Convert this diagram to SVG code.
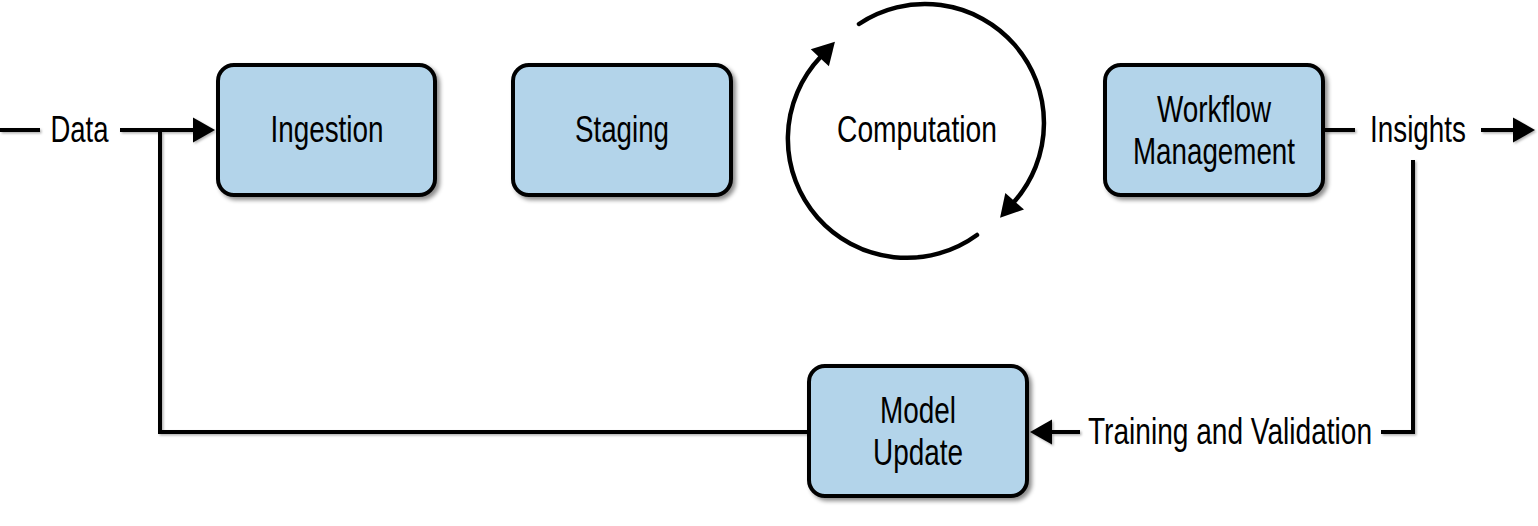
<svg xmlns="http://www.w3.org/2000/svg" width="1538" height="526" viewBox="0 0 1538 526">
  <defs>
    <style>
      .box { fill: #b3d4ea; stroke: #000; stroke-width: 4; }
      .lbl { font-family: "Liberation Sans", "DejaVu Sans", sans-serif; font-size: 37px; fill: #000; text-anchor: middle; }
      .wire { fill: none; stroke: #000; stroke-width: 4; }
      .cyc { fill: none; stroke: #000; stroke-width: 4.5; stroke-linecap: round; }
    </style>
    <filter id="sh" x="-10%" y="-10%" width="130%" height="130%">
      <feDropShadow dx="3" dy="3" stdDeviation="2" flood-color="#000" flood-opacity="0.45"/>
    </filter>
    <filter id="shl" x="-5%" y="-5%" width="110%" height="110%">
      <feDropShadow dx="1.5" dy="1.5" stdDeviation="0.8" flood-color="#000" flood-opacity="0.3"/>
    </filter>
    <marker id="arr" markerUnits="userSpaceOnUse" markerWidth="24" markerHeight="28" viewBox="0 0 24 28" refX="1" refY="14" orient="auto" overflow="visible">
      <path d="M0,1.5 L22,14 L0,26.5 z" fill="#000"/>
    </marker>
  </defs>

  <g id="connectors">
    <g filter="url(#shl)">
      <line class="wire" x1="0" y1="130" x2="40" y2="130"/>
      <line class="wire" x1="120" y1="130" x2="194" y2="130" marker-end="url(#arr)"/>
      <path class="wire" d="M160,130 V432 H808"/>
      <line class="wire" x1="1325" y1="130" x2="1355" y2="130"/>
      <line class="wire" x1="1481" y1="130" x2="1514" y2="130" marker-end="url(#arr)"/>
      <path class="wire" d="M1413,160 V432 H1381"/>
      <line class="wire" x1="1080" y1="432" x2="1051" y2="432" marker-end="url(#arr)"/>
    </g>
    <path class="cyc" d="M859,24 A119,119 0 0 1 1014,202" marker-end="url(#arr)"/>
    <path class="cyc" d="M977,235 A119,119 0 0 1 820.5,57" marker-end="url(#arr)"/>
  </g>

  <g id="data-label"><text class="lbl" x="79.5" y="142" textLength="58" lengthAdjust="spacingAndGlyphs">Data</text></g>

  <g id="ingestion">
    <rect class="box" x="218" y="65" width="217" height="130" rx="16" filter="url(#sh)"/>
    <text class="lbl" x="327" y="142" textLength="113" lengthAdjust="spacingAndGlyphs">Ingestion</text>
  </g>

  <g id="staging">
    <rect class="box" x="513" y="65" width="218" height="130" rx="16" filter="url(#sh)"/>
    <text class="lbl" x="622" y="142" textLength="94" lengthAdjust="spacingAndGlyphs">Staging</text>
  </g>

  <g id="computation">
    <text class="lbl" x="917" y="142" textLength="160" lengthAdjust="spacingAndGlyphs">Computation</text>
  </g>

  <g id="workflow">
    <rect class="box" x="1105" y="65" width="218" height="130" rx="16" filter="url(#sh)"/>
    <text class="lbl" x="1214" y="122" textLength="114" lengthAdjust="spacingAndGlyphs">Workflow</text>
    <text class="lbl" x="1214" y="164" textLength="162" lengthAdjust="spacingAndGlyphs">Management</text>
  </g>

  <g id="insights-label"><text class="lbl" x="1418" y="142" textLength="96" lengthAdjust="spacingAndGlyphs">Insights</text></g>

  <g id="model-update">
    <rect class="box" x="809" y="366" width="218" height="130" rx="16" filter="url(#sh)"/>
    <text class="lbl" x="918" y="423" textLength="76" lengthAdjust="spacingAndGlyphs">Model</text>
    <text class="lbl" x="918" y="465" textLength="90" lengthAdjust="spacingAndGlyphs">Update</text>
  </g>

  <g id="training-label"><text class="lbl" x="1230" y="444" textLength="284" lengthAdjust="spacingAndGlyphs">Training and Validation</text></g>
</svg>
